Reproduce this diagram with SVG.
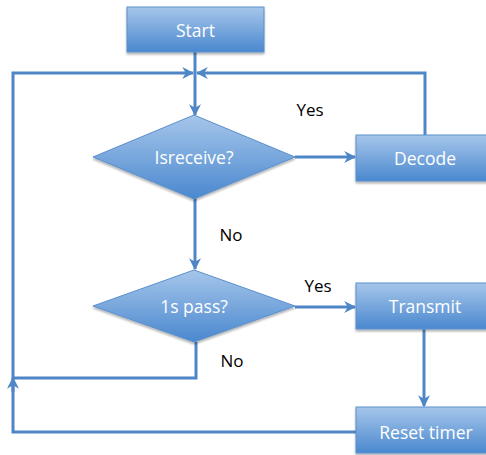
<svg xmlns="http://www.w3.org/2000/svg" width="486" height="455" viewBox="0 0 486 455">
  <defs>
    <linearGradient id="fillBlue" x1="0" y1="0" x2="0" y2="1">
      <stop offset="0" stop-color="#a6c6ea"/>
      <stop offset="1" stop-color="#4a88cf"/>
    </linearGradient>
    <filter id="shadow" x="-10%" y="-10%" width="130%" height="140%">
      <feDropShadow dx="0" dy="2" stdDeviation="1.2" flood-color="#000" flood-opacity="0.3"/>
    </filter>
    <marker id="arrow" viewBox="0 0 10 10" refX="9" refY="5" markerWidth="4" markerHeight="4" orient="auto" markerUnits="strokeWidth">
      <path d="M0,0 L10,5 L0,10 L3,5 Z" fill="#4f86c6"/>
    </marker>
  </defs>
  <style>
    .box { fill: url(#fillBlue); stroke: #5a8fcc; stroke-width: 1; filter: url(#shadow); }
    .label { font-family: "Open Sans", "Liberation Sans", sans-serif; font-size: 17.5px; fill: #ffffff; text-anchor: middle; dominant-baseline: central; }
    .note { font-family: "Open Sans", "Liberation Sans", sans-serif; font-size: 17px; fill: #000000; text-anchor: middle; dominant-baseline: central; }
    .wire { fill: none; stroke: #4f86c6; stroke-width: 3; stroke-linejoin: miter; }
  </style>

  <g id="connectors">
    <!-- Start to Isreceive -->
    <path class="wire" d="M195,52 L195,115" marker-end="url(#arrow)"/>
    <!-- Decode back to loop top -->
    <path class="wire" d="M425,135 L425,73 L197,73" marker-end="url(#arrow)"/>
    <!-- Isreceive yes to Decode -->
    <path class="wire" d="M295,157 L355,157" marker-end="url(#arrow)"/>
    <!-- Isreceive no to 1s pass -->
    <path class="wire" d="M195,198 L195,269" marker-end="url(#arrow)"/>
    <!-- 1s pass yes to Transmit -->
    <path class="wire" d="M295,307 L355,307" marker-end="url(#arrow)"/>
    <!-- 1s pass no back to loop -->
    <path class="wire" d="M196,342 L196,378 L13,378"/>
    <!-- Transmit to Reset timer -->
    <path class="wire" d="M424,329 L424,406" marker-end="url(#arrow)"/>
    <!-- Reset timer back to loop top -->
    <path class="wire" d="M356,432 L13,432 L13,73 L193,73" marker-end="url(#arrow)"/>
    <path class="wire" d="M13,392 L13,378" marker-end="url(#arrow)"/>
  </g>

  <g id="start">
    <rect class="box" x="127" y="7" width="137" height="45"/>
    <text class="label" x="195.5" y="30">Start</text>
  </g>

  <g id="isreceive">
    <polygon class="box" points="194,115 295,157 194,199 93,157"/>
    <text class="label" x="194" y="157">Isreceive?</text>
  </g>

  <g id="decode">
    <rect class="box" x="356" y="135" width="137" height="46"/>
    <text class="label" x="425" y="158">Decode</text>
  </g>

  <g id="pass">
    <polygon class="box" points="194,270 295,306 194,342 93,306"/>
    <text class="label" x="194" y="306">1s pass?</text>
  </g>

  <g id="transmit">
    <rect class="box" x="356" y="283" width="137" height="46"/>
    <text class="label" x="425" y="306">Transmit</text>
  </g>

  <g id="reset">
    <rect class="box" x="356" y="407" width="137" height="46"/>
    <text class="label" x="426" y="432">Reset timer</text>
  </g>

  <g id="notes">
    <text class="note" x="310" y="109">Yes</text>
    <text class="note" x="231" y="234">No</text>
    <text class="note" x="318" y="285">Yes</text>
    <text class="note" x="232" y="360">No</text>
  </g>
</svg>
